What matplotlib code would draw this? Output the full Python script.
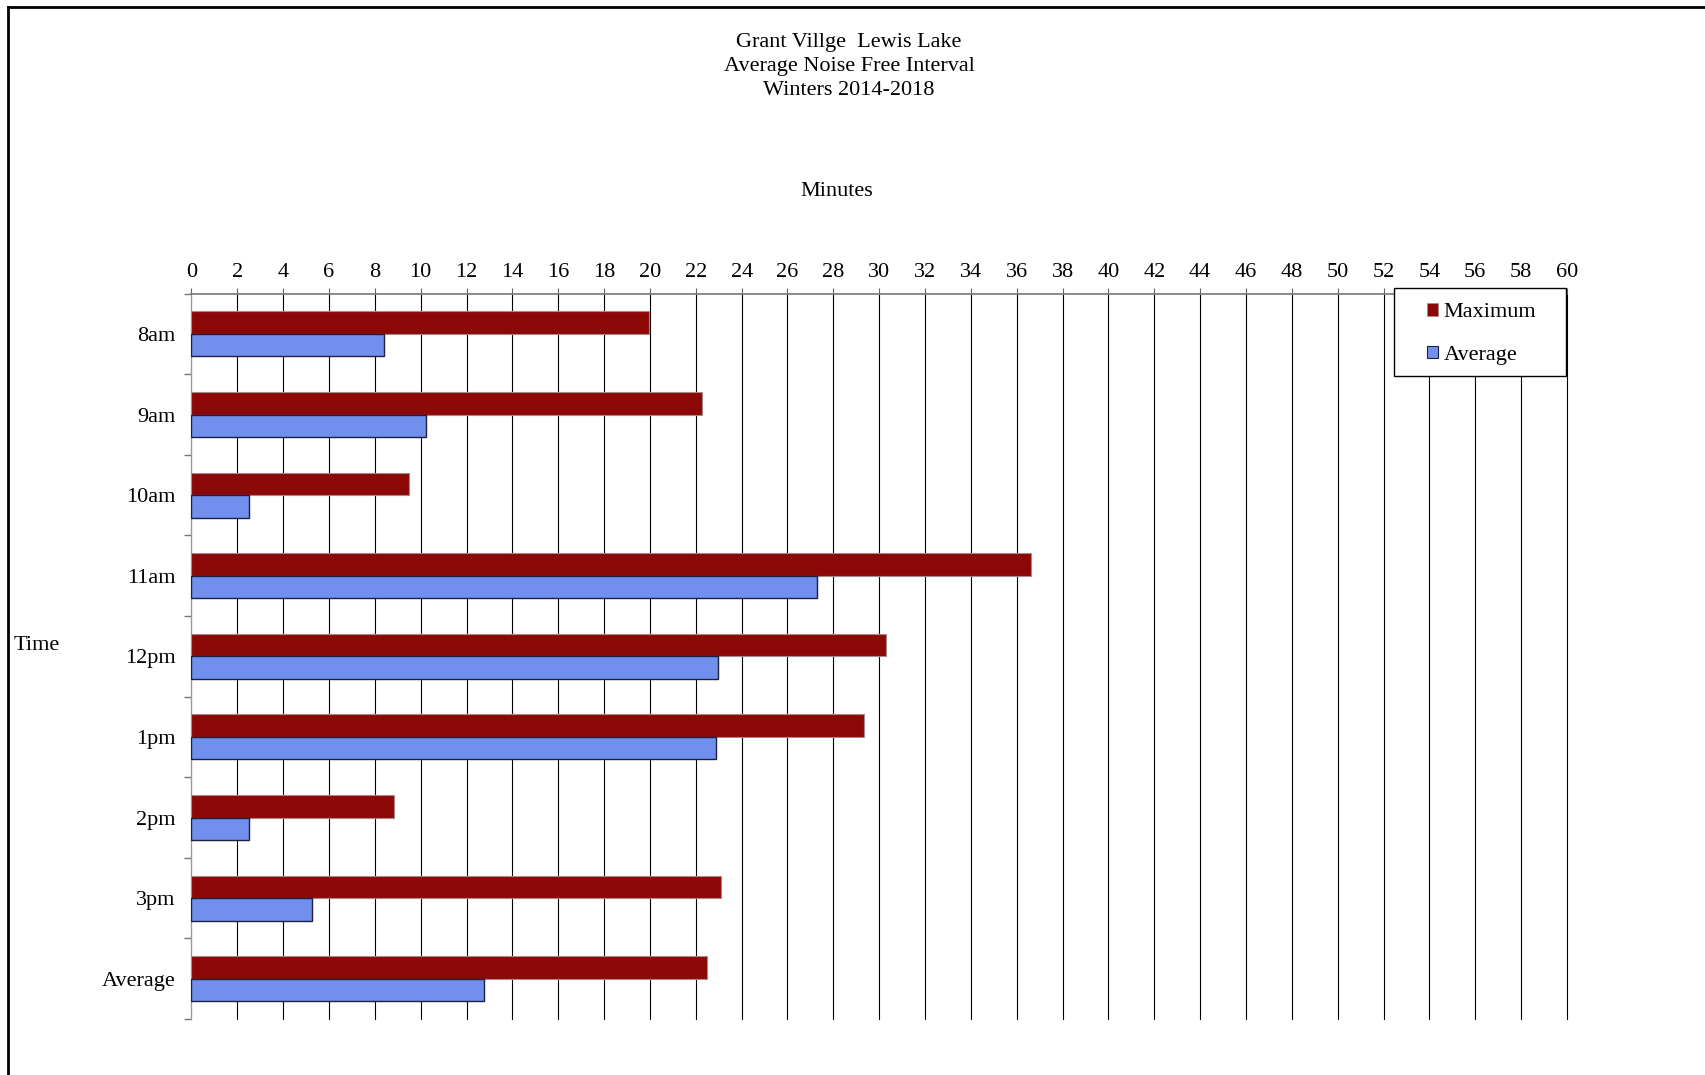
import matplotlib
matplotlib.use("Agg")
import matplotlib.pyplot as plt
from matplotlib.patches import Rectangle
from matplotlib.lines import Line2D
import numpy as np

plt.rcParams['font.family'] = ['Liberation Serif', 'DejaVu Serif']

# noise free interval per hour, minutes
times = ['8am', '9am', '10am', '11am', '12pm', '1pm', '2pm', '3pm', 'Average']
maximum = [19.95, 22.25, 9.5, 36.6, 30.3, 29.35, 8.85, 23.1, 22.5]
average = [8.4, 10.25, 2.5, 27.3, 22.95, 22.9, 2.5, 5.25, 12.75]
xticks = list(range(0, 61, 2))

W, H = 1705, 1075
fig = plt.figure(figsize=(W / 100, H / 100), dpi=100)

def fx(px):
    return px / W

def fy(py):
    return 1 - py / H

ax = fig.add_axes([fx(191.4), fy(1019), fx(1567) - fx(191.4), fy(293.6) - fy(1019)])

red = '#8c0806'
blue = '#7190ee'
y = np.arange(len(times))
bh = 0.28
ax.barh(y - bh / 2, maximum, height=bh, color=red, edgecolor='#a88888', linewidth=0.8, zorder=3)
ax.barh(y + bh / 2, average, height=bh, color=blue, edgecolor='#1c1f40', linewidth=1.0, zorder=3)

ax.set_xlim(0, 60)
ax.set_ylim(len(times) - 0.5, -0.5)
ax.set_xticks(xticks)
ax.xaxis.tick_top()
ax.tick_params(axis='x', which='major', direction='out', length=4, width=0.8,
               color='#666666', labelsize=16, pad=4.5)
ax.grid(axis='x', color='black', linewidth=0.8, zorder=1)
for gl in ax.xaxis.get_gridlines():
    gl.set_clip_on(False)

ax.set_yticks(y)
ax.set_yticklabels(times)
ax.set_yticks(np.arange(len(times) + 1) - 0.5, minor=True)
ax.tick_params(axis='y', which='major', length=0, labelsize=16, pad=11.5)
ax.tick_params(axis='y', which='minor', direction='out', length=5, width=1.0, color='#777777')

for side in ['right', 'bottom']:
    ax.spines[side].set_visible(False)
ax.spines['top'].set_color('#777777')
ax.spines['left'].set_color('#999999')
ax.spines['top'].set_linewidth(1.2)

# titles and axis names
fig.text(fx(849), fy(66.5), 'Grant Villge  Lewis Lake\nAverage Noise Free Interval\nWinters 2014-2018',
         ha='center', va='center', fontsize=16, linespacing=1.34)
fig.text(fx(837), fy(191), 'Minutes', ha='center', va='center', fontsize=16)
fig.text(fx(14), fy(645), 'Time', ha='left', va='center', fontsize=16)

# legend
fig.patches.append(Rectangle((fx(1394), fy(376)), fx(1566) - fx(1394), fy(288) - fy(376),
                             transform=fig.transFigure, facecolor='white', edgecolor='black',
                             linewidth=1.0, zorder=5))
handles = [Rectangle((0, 0), 1, 1, facecolor=red, edgecolor='#a88888', linewidth=0.6),
           Rectangle((0, 0), 1, 1, facecolor=blue, edgecolor='#1c1f40', linewidth=0.8)]
leg = fig.legend(handles, ['Maximum', 'Average'], loc='upper left',
                 bbox_to_anchor=(fx(1427), fy(303)), frameon=False, fontsize=16,
                 handlelength=0.5, handleheight=0.5, handletextpad=0.25,
                 labelspacing=1.05, borderpad=0, borderaxespad=0)
leg.set_zorder(6)

# outer frame on left and top
fig.lines.append(Line2D([fx(8), fx(8)], [0, fy(6.5)], transform=fig.transFigure, color='black', linewidth=2))
fig.lines.append(Line2D([fx(8), 1], [fy(6.5), fy(6.5)], transform=fig.transFigure, color='black', linewidth=2))

fig.savefig('out.png', dpi=100)
